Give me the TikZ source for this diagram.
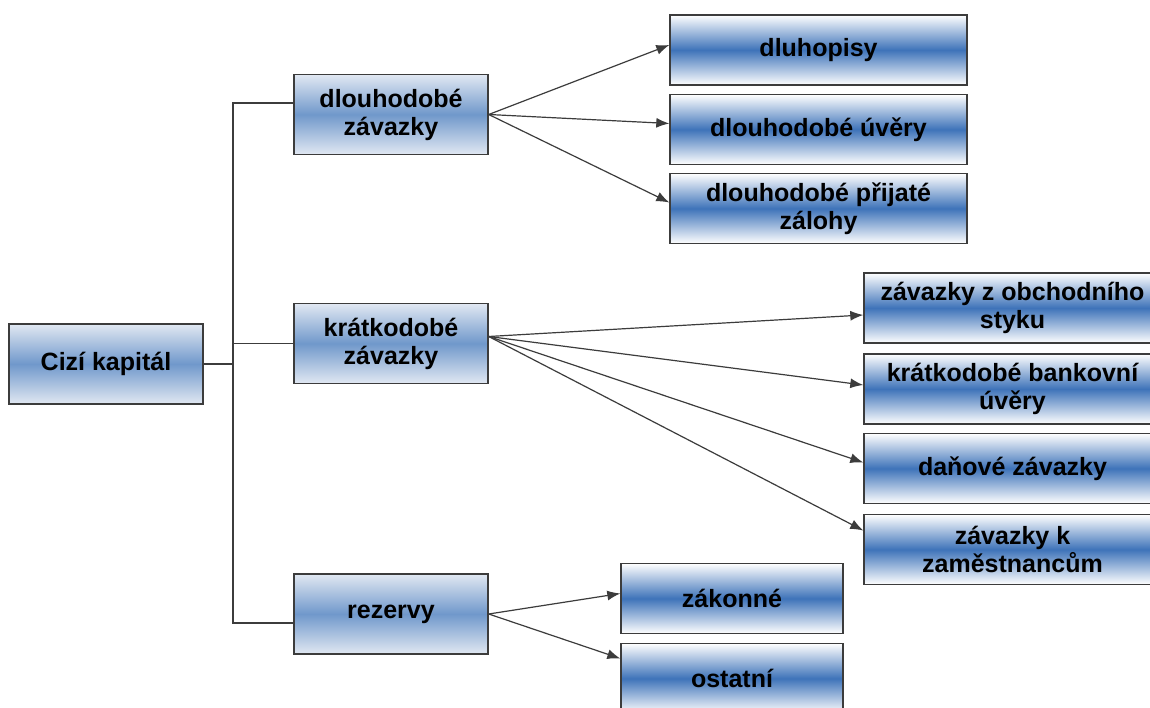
\documentclass[tikz,border=0pt]{standalone}
\usepackage{fontspec}
\setmainfont{Liberation Sans}
\usepackage{tikz}
\usetikzlibrary{shapes,arrows.meta,positioning}
\definecolor{edge}{HTML}{3C3C3C}
\definecolor{paleblue}{HTML}{E1E8F2}
\definecolor{midblue}{HTML}{7098CB}
\definecolor{deepblue}{HTML}{3E73B9}
\tikzstyle{line} = [draw, edge, line width=1.2pt, -{Latex[length=13pt,width=10pt]}]
\tikzstyle{link} = [draw, edge, line width=1.3pt]
\tikzstyle{block} = [draw=edge, line width=1.4pt, rectangle, align=center, inner sep=0pt,
    minimum width=194pt, minimum height=80pt,
    top color=paleblue, bottom color=paleblue, middle color=midblue,
    font=\fontsize{25}{28}\selectfont\bfseries]
\tikzstyle{subblock} = [draw=edge, line width=1.4pt, rectangle, align=center, inner sep=0pt,
    minimum width=297pt, minimum height=70pt,
    top color=white, bottom color=white, middle color=deepblue,
    font=\fontsize{25}{28}\selectfont\bfseries]

\begin{document}
\begin{tikzpicture}[x=1pt, y=-1pt]
        \clip (0,0) rectangle (1150,708);
        \fill[white] (0,0) rectangle (1150,708);
        % first level
        \node[block] (ck) at (106,364) {Cizí kapitál};
        \node[block] (dz) at (391,114.5) {dlouhodobé\\závazky};
        \node[block] (kz) at (391,343.5) {krátkodobé\\závazky};
        \node[block] (rz) at (391,614) {rezervy};
        % long-term items
        \node[subblock] (dl) at (818.5,50) {dluhopisy};
        \node[subblock, below of=dl, node distance=79.5pt] (du) {dlouhodobé úvěry};
        \node[subblock, below of=du, node distance=79pt] (dp) {dlouhodobé přijaté\\zálohy};
        % short-term items
        \node[subblock] (zo) at (1012.5,308) {závazky z obchodního\\styku};
        \node[subblock, below of=zo, node distance=81pt] (bu) {krátkodobé bankovní\\úvěry};
        \node[subblock, below of=bu, node distance=79.5pt] (dn) {daňové závazky};
        \node[subblock, below of=dn, node distance=81pt] (zm) {závazky k\\zaměstnancům};
        % reserves
        \node[subblock, minimum width=222pt] (zk) at (732,598.5) {zákonné};
        \node[subblock, minimum width=222pt, below of=zk, node distance=80pt] (os) {ostatní};
        % trunk
        \coordinate (tt) at (233,103);
        \coordinate (tb) at (233,623);
        \path[link] (ck.east) -- (ck.east -| tt);
        \path[link] ([yshift=11.5pt]dz.west) -- (tt) -- (tb) -- ([yshift=-9pt]rz.west);
        \path[link] (kz.west) -- (kz.west -| tt);
        \path[line] (dz.east) -- ([yshift=5pt]dl.west);
        \path[line] (dz.east) -- ([yshift=6pt]du.west);
        \path[line] (dz.east) -- ([yshift=6pt]dp.west);
        \path[line] ([yshift=7pt]kz.east) -- ([yshift=-7pt]zo.west);
        \path[line] ([yshift=7pt]kz.east) -- ([yshift=4pt]bu.west);
        \path[line] ([yshift=7pt]kz.east) -- ([yshift=6pt]dn.west);
        \path[line] ([yshift=7pt]kz.east) -- ([yshift=19pt]zm.west);
        \path[line] (rz.east) -- ([yshift=5pt]zk.west);
        \path[line] (rz.east) -- ([yshift=20pt]os.west);
    \end{tikzpicture}
\end{document}
